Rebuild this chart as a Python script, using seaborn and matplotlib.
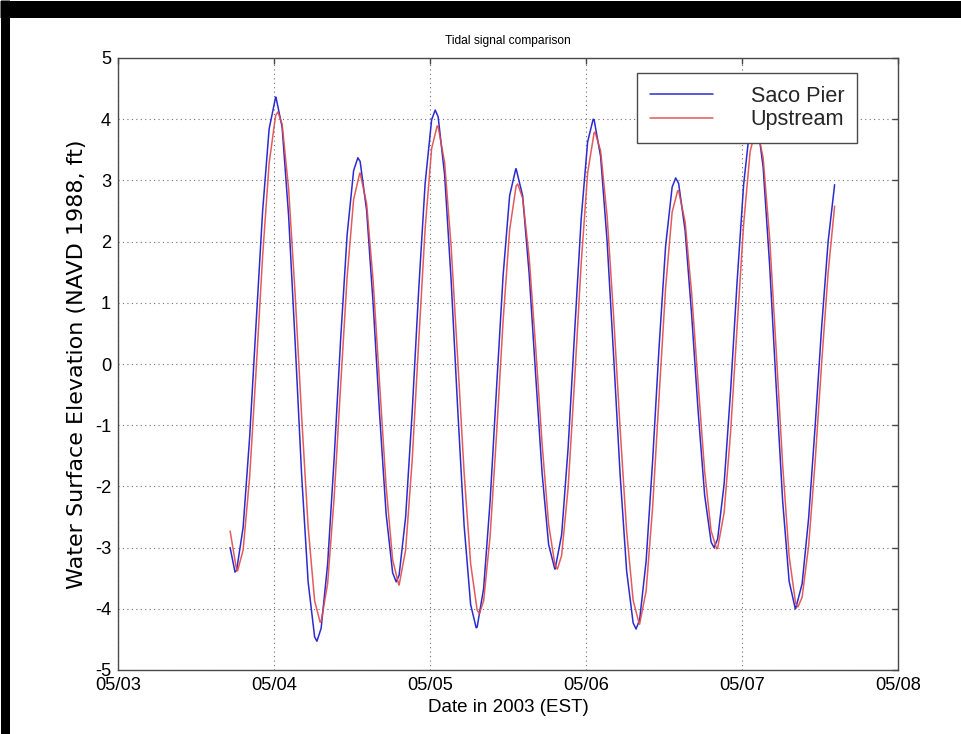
import numpy as np
import pandas as pd
import matplotlib
matplotlib.use("Agg")
import matplotlib.pyplot as plt
import matplotlib.dates as mdates
from matplotlib import font_manager
from matplotlib.lines import Line2D
import seaborn as sns

# ---------------------------------------------------------------- data
# Hourly water-surface readings (ft, NAVD 1988), first reading 2003-05-03 17:15 EST
sample_start = "2003-05-03 17:15"

saco_hourly = [
    -3.00, -3.37, -2.67, -1.20, 0.67, 2.50, 3.84, 4.36, 3.87, 2.42,
    0.36, -1.81, -3.56, -4.46, -4.32, -3.27, -1.55, 0.40, 2.11, 3.16,
    3.31, 2.51, 0.99, -0.83, -2.45, -3.41, -3.45, -2.50, -0.80, 1.19,
    2.95, 3.99, 4.04, 3.09, 1.37, -0.71, -2.64, -3.93, -4.30, -3.67,
    -2.24, -0.37, 1.45, 2.75, 3.19, 2.75, 1.48, -0.17, -1.79, -2.95,
    -3.35, -2.79, -1.37, 0.52, 2.36, 3.63, 3.99, 3.39, 2.00, 0.13,
    -1.81, -3.38, -4.23, -4.18, -3.22, -1.58, 0.29, 1.93, 2.89, 2.95,
    2.18, 0.81, -0.77, -2.14, -2.91, -2.86, -1.96, -0.43, 1.35, 2.93,
    3.91, 4.04, 3.22, 1.62, -0.35, -2.23, -3.55, -4.00, -3.59, -2.52,
    -1.02, 0.60, 2.00, 2.93,
]

upstream_hourly = [
    -2.73, -3.37, -3.04, -1.85, -0.10, 1.76, 3.28, 4.06, 3.92, 2.86,
    1.14, -0.85, -2.66, -3.87, -4.21, -3.59, -2.19, -0.36, 1.42, 2.69,
    3.12, 2.62, 1.36, -0.33, -2.00, -3.20, -3.61, -3.04, -1.59, 0.34,
    2.21, 3.52, 3.88, 3.29, 1.92, 0.10, -1.78, -3.26, -4.02, -3.87,
    -2.81, -1.13, 0.71, 2.19, 2.91, 2.71, 1.75, 0.28, -1.31, -2.62,
    -3.30, -3.13, -2.02, -0.26, 1.63, 3.12, 3.78, 3.48, 2.41, 0.78,
    -1.06, -2.73, -3.86, -4.25, -3.71, -2.34, -0.52, 1.25, 2.48, 2.83,
    2.32, 1.16, -0.32, -1.75, -2.73, -3.01, -2.43, -1.11, 0.61, 2.28,
    3.47, 3.88, 3.37, 2.06, 0.24, -1.64, -3.14, -3.91, -3.81, -2.97,
    -1.60, 0.01, 1.49, 2.58,
]

# High / low water turning points (hours after 2003-05-03 00:00, level in ft)
saco_turn_hours = [18.0, 24.3, 30.6, 36.9, 42.8, 48.8, 55.1, 61.2,
                   67.2, 73.1, 79.7, 85.8, 91.7, 97.9, 104.2]
saco_turn_levels = [-3.40, 4.36, -4.53, 3.37, -3.56, 4.15, -4.31, 3.19,
                    -3.35, 4.00, -4.33, 3.04, -3.00, 4.10, -4.00]

upstream_turn_hours = [18.4, 24.6, 31.1, 37.2, 43.2, 49.1, 55.6, 61.5,
                       67.6, 73.4, 80.2, 86.1, 92.1, 98.2, 104.6]
upstream_turn_levels = [-3.38, 4.12, -4.22, 3.12, -3.61, 3.89, -4.08, 2.94,
                        -3.35, 3.79, -4.25, 2.83, -3.02, 3.88, -3.97]

gauge_names = ["Saco Pier", "Upstream"]
gauge_colors = ["#2b2bd0", "#e04a4a"]
day_ticks = ["2003-05-03", "2003-05-04", "2003-05-05",
             "2003-05-06", "2003-05-07", "2003-05-08"]
level_ticks = [-5, -4, -3, -2, -1, 0, 1, 2, 3, 4, 5]


def gauge_frame(hourly, turn_hours, turn_levels, name):
    t0 = pd.Timestamp(sample_start)
    day0 = pd.Timestamp(day_ticks[0])
    hourly_times = t0 + pd.to_timedelta(np.arange(len(hourly)), unit="h")
    turn_times = day0 + pd.to_timedelta(turn_hours, unit="h")
    df = pd.DataFrame({
        "time": list(hourly_times) + list(turn_times),
        "level": list(hourly) + list(turn_levels),
    }).sort_values("time")
    df["gauge"] = name
    return df


data = pd.concat([
    gauge_frame(saco_hourly, saco_turn_hours, saco_turn_levels, gauge_names[0]),
    gauge_frame(upstream_hourly, upstream_turn_hours, upstream_turn_levels, gauge_names[1]),
], ignore_index=True)

# ---------------------------------------------------------------- style
sns.set_theme(style="white")
installed = {f.name for f in font_manager.fontManager.ttflist}
if "Liberation Sans Narrow" in installed:
    narrow_family, k = "Liberation Sans Narrow", 1.0
else:
    narrow_family, k = "Liberation Sans", 0.82
plt.rcParams["font.family"] = [narrow_family, "DejaVu Sans"]
plt.rcParams["axes.unicode_minus"] = False

frame_color = "#4a4a4a"

fig = plt.figure(figsize=(9.61, 7.34), dpi=100, facecolor="white")

ax = fig.add_axes([118 / 961, 1 - 670 / 734, 780 / 961, 612 / 734])
ax.set_facecolor("white")

sns.lineplot(data=data, x="time", y="level", hue="gauge",
             hue_order=gauge_names,
             palette=dict(zip(gauge_names, gauge_colors)),
             estimator=None, sort=False, linewidth=1.1, legend=False, ax=ax)
for line in ax.get_lines():
    line.set_solid_joinstyle("round")
ax.get_lines()[1].set_alpha(0.9)

ax.set_xlim(pd.Timestamp(day_ticks[0]), pd.Timestamp(day_ticks[-1]))
ax.set_ylim(level_ticks[0], level_ticks[-1])
ax.set_xticks([pd.Timestamp(d) for d in day_ticks])
ax.xaxis.set_major_formatter(mdates.DateFormatter("%m/%d"))
ax.set_yticks(level_ticks)

ax.grid(True, linestyle=(0, (1, 3)), color="#707070", linewidth=0.8)
for side in ax.spines.values():
    side.set_color(frame_color)
    side.set_linewidth(1.0)
ax.tick_params(axis="both", which="major", direction="in", length=4,
               width=1.0, color=frame_color, top=True, right=True,
               labelsize=16 * k, labelcolor="black", pad=5)

ax.set_title("Tidal signal comparison", fontsize=10.5 * k, pad=10,
             color="black")
ax.set_xlabel("Date in 2003 (EST)", fontsize=16.5 * k, labelpad=4,
              color="black")
ax.set_ylabel("Water Surface Elevation (NAVD 1988, ft)", fontsize=16,
              family=["DejaVu Sans"], color="black")
ax.yaxis.set_label_coords(-0.040, 0.5)

leg_size = 19 * k
leg = ax.legend(handles=ax.get_lines()[:2], labels=gauge_names,
                loc="upper left", bbox_to_anchor=(0.6654, 0.9755),
                borderaxespad=0, fontsize=leg_size, frameon=True,
                fancybox=False, handlelength=2.9, handletextpad=1.75,
                labelspacing=0.1, borderpad=0.6)
leg.get_frame().set_edgecolor(frame_color)
leg.get_frame().set_linewidth(1.0)
leg.get_frame().set_facecolor("white")
leg.get_frame().set_alpha(1.0)

# heavy black border strokes along the top and left edges of the sheet
px = 72 / 100  # points per pixel at 100 dpi
top_band = 17
left_band = 9
fig.add_artist(Line2D([0, 1], [1 - top_band / 2 / 734] * 2,
                      transform=fig.transFigure, color="black",
                      linewidth=top_band * px, solid_capstyle="butt"))
fig.add_artist(Line2D([left_band / 2 / 961] * 2, [0, 1],
                      transform=fig.transFigure, color="black",
                      linewidth=left_band * px, solid_capstyle="butt"))

fig.savefig("out.png", dpi=100, facecolor="white")
